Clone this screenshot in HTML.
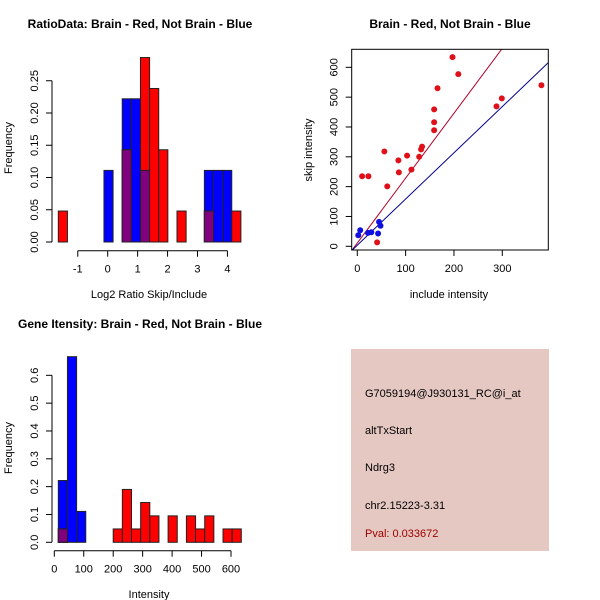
<!DOCTYPE html>
<html><head><meta charset="utf-8"><style>
html,body{margin:0;padding:0;background:#fff;}
svg{display:block;font-family:"Liberation Sans",Arial,sans-serif;}
</style></head><body>
<svg id="c" width="600" height="600" viewBox="0 0 600 600">
<rect x="351" y="349" width="198" height="202" fill="#e5c8c2"/>
<g font-size="11" fill="#000">
<text x="365" y="397">G7059194@J930131_RC@i_at</text>
<text x="365" y="434">altTxStart</text>
<text x="365" y="471">Ndrg3</text>
<text x="365" y="509">chr2.15223-3.31</text>
<text x="365" y="537" fill="#a00000">Pval: 0.033672</text>
</g>
</svg>
<script>
// ---- Panel 1: ratio histogram ----
const ratioBinStart = -1.65, ratioBinWidth = 0.305;
const ratioBlue = [0,0,0,0,0,0.111,0,0.222,0.222,0.111,0,0,0,0,0,0,0.111,0.111,0.111,0];
const ratioRed  = [0.048,0,0,0,0,0,0,0.143,0,0.286,0.238,0.143,0,0.048,0,0,0.048,0,0,0.048];
const ratioYTicks = [0,0.05,0.10,0.15,0.20,0.25];
const ratioYLabels = ["0.00","0.05","0.10","0.15","0.20","0.25"];
const ratioXTicks = [-1,0,1,2,3,4];
// ---- Panel 2: scatter ----
const redInclude = [10,23,56,62,85,86,103,112,128,132,134,159,159,159,166,197,209,288,299,381,41];
const redSkip    = [235,235,318,201,288,248,304,257,300,325,334,389,416,459,530,634,577,469,496,540,13];
const blueInclude = [2,6,22,29,45,48,43];
const blueSkip    = [37,54,45,47,82,69,43];
const lineSlopes = [2.175,1.549];
const lineIntercepts = [11,3.6];
const scatXTicks = [0,100,200,300];
const scatYTicks = [0,100,200,300,400,500,600];
// ---- Panel 3: intensity histogram ----
const intBinStart = 13.6, intBinWidth = 31.07;
const intBlue = [0.222,0.667,0.111,0,0,0,0,0,0,0,0,0,0,0,0,0,0,0,0,0];
const intRed  = [0.048,0,0,0,0,0,0.048,0.19,0.048,0.143,0.095,0,0.095,0,0.095,0.048,0.095,0,0.048,0.048];
const intYTicks = [0,0.1,0.2,0.3,0.4,0.5,0.6];
const intYLabels = ["0.0","0.1","0.2","0.3","0.4","0.5","0.6"];
const intXTicks = [0,100,200,300,400,500,600];

const svg = document.getElementById('c');
const NS = 'http://www.w3.org/2000/svg';
function mk(tag, attrs, parent){const e=document.createElementNS(NS,tag);for(const k in attrs)e.setAttribute(k,attrs[k]);(parent||svg).appendChild(e);return e;}
function txt(x,y,s,size,anchor,rot,weight){const t=mk('text',{x:x,y:y,'font-size':size,'text-anchor':anchor||'middle'});if(rot)t.setAttribute('transform','rotate(-90 '+x+' '+y+')');if(weight)t.setAttribute('font-weight',weight);t.textContent=s;return t;}

function hist(o){
  const sx=v=>o.x0+(v-o.xv0)*o.xs, sy=v=>o.base-v*o.ys;
  const g=mk('g',{});
  
  
  for(let i=0;i<o.blue.length;i++){
    const a=sx(o.start+i*o.w), b=sx(o.start+(i+1)*o.w);
    const bv=o.blue[i], rv=o.red[i];
    if(bv>0){const r=mk('rect',{x:a,y:sy(bv),width:b-a,height:bv*o.ys,fill:'#0000ff',stroke:'#222','stroke-width':1},g);
      
      }
    if(rv>0){const r=mk('rect',{x:a,y:sy(rv),width:b-a,height:rv*o.ys,fill:'#ff0000',stroke:'#222','stroke-width':1},g);
      
      }
    const m=Math.min(bv,rv);
    if(m>0){const r=mk('rect',{x:a,y:sy(m),width:b-a,height:m*o.ys,fill:'#800080',stroke:'#222','stroke-width':1},g);
      
      }
  }
  const yt=o.yticks;
  mk('line',{x1:o.yax,x2:o.yax,y1:sy(yt[0]),y2:sy(yt[yt.length-1]),stroke:'#000'});
  yt.forEach((v,i)=>{mk('line',{x1:o.yax-6,x2:o.yax,y1:sy(v),y2:sy(v),stroke:'#000'});
    const t=txt(o.yax-14,sy(v),o.ylabels[i],11,'middle',true);
    
    });
  const xt=o.xticks;
  mk('line',{x1:sx(xt[0]),x2:sx(xt[xt.length-1]),y1:o.xax,y2:o.xax,stroke:'#000'});
  xt.forEach(v=>{mk('line',{x1:sx(v),x2:sx(v),y1:o.xax,y2:o.xax+6,stroke:'#000'});
    const t=txt(sx(v),o.xax+22,String(v),11);
    
    });
}

hist({name:'ratio-histogram',blue:ratioBlue,red:ratioRed,start:ratioBinStart,w:ratioBinWidth,
  x0:107.7,xv0:0,xs:29.93,base:242,ys:645,yticks:ratioYTicks,ylabels:ratioYLabels,xticks:ratioXTicks,yax:52,xax:250.7});
let t;
t=txt(140,28,'RatioData: Brain - Red, Not Brain - Blue',12,'middle',false,'bold');


t=txt(149,298,'Log2 Ratio Skip/Include',11);


t=txt(12,148,'Frequency',11,'middle',true);



hist({name:'intensity-histogram',blue:intBlue,red:intRed,start:intBinStart,w:intBinWidth,
  x0:54.3,xv0:0,xs:0.2945,base:542.3,ys:278.3,yticks:intYTicks,ylabels:intYLabels,xticks:intXTicks,yax:52,xax:550.7});
t=txt(140,328,'Gene Itensity: Brain - Red, Not Brain - Blue',12,'middle',false,'bold');


t=txt(149,598,'Intensity',11);


t=txt(12,448,'Frequency',11,'middle',true);



(function(){
  const L=351.7,R=548.3,T=49.3,B=250;
  const sx=v=>357.3+v*0.4833, sy=v=>246.3-v*0.2983;
  const xmin=(L-357.3)/0.4833, xmax=(R-357.3)/0.4833;
  const cp=mk('clipPath',{id:'sc'});mk('rect',{x:L,y:T,width:R-L,height:B-T},cp);
  const g=mk('g',{'clip-path':'url(#sc)'});
  
  
  const cols=['#b0002a','#000090'];
  lineSlopes.forEach((s,i)=>{const l=mk('line',{x1:sx(xmin),y1:sy(lineIntercepts[i]+s*xmin),x2:sx(xmax),y2:sy(lineIntercepts[i]+s*xmax),stroke:cols[i],'stroke-width':1},g);
    
    });
  redInclude.forEach((v,i)=>{const c=mk('circle',{cx:sx(v),cy:sy(redSkip[i]),r:3,fill:'#e0101a'},g);
    
    });
  blueInclude.forEach((v,i)=>{const c=mk('circle',{cx:sx(v),cy:sy(blueSkip[i]),r:3,fill:'#1010e0'},g);
    
    });
  mk('rect',{x:L,y:T,width:R-L,height:B-T,fill:'none',stroke:'#000'});
  scatXTicks.forEach(v=>{mk('line',{x1:sx(v),x2:sx(v),y1:B,y2:B+6,stroke:'#000'});
    const t=txt(sx(v),B+22,String(v),11);
    
    });
  scatYTicks.forEach(v=>{mk('line',{x1:L-6,x2:L,y1:sy(v),y2:sy(v),stroke:'#000'});
    const t=txt(L-14,sy(v),String(v),11,'middle',true);
    
    });
})();
t=txt(450,28,'Brain - Red, Not Brain - Blue',12,'middle',false,'bold');


t=txt(449,298,'include intensity',11);


t=txt(312,150,'skip intensity',11,'middle',true);


</script>
</body></html>
